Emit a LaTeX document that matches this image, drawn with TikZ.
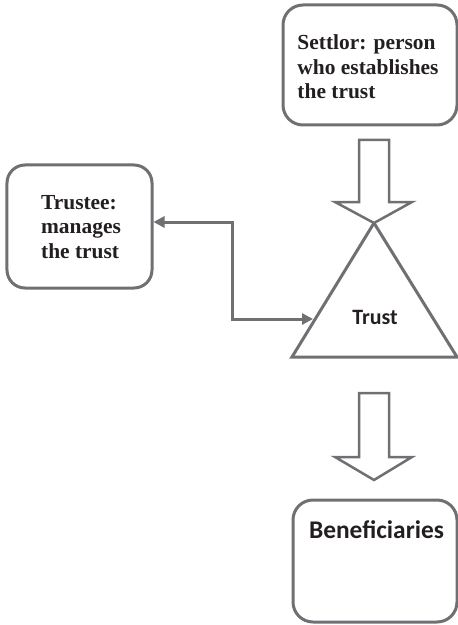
\documentclass[tikz,border=0pt]{standalone}
\usepackage{fontspec}
\setmainfont{Liberation Serif}
\newfontfamily\calfont{Carlito}
\usetikzlibrary{arrows.meta}
\definecolor{linegray}{HTML}{6F7073}
\definecolor{textdark}{HTML}{231F20}
\begin{document}
\begin{tikzpicture}[x=1bp,y=-1bp,
  box/.style={draw=linegray,line width=3bp,rounded corners=20bp,inner sep=0pt},
  serifbold/.style={text=textdark,font=\bfseries\fontsize{21.5}{24.5}\selectfont,align=left,inner sep=0pt},
  sansbold/.style={text=textdark,font=\calfont\bfseries\fontsize{22}{26}\selectfont,inner sep=0pt},
  blockarrow/.style={draw=linegray,line width=2.5bp,line join=miter,fill=white},
  conn/.style={draw=linegray,line width=3bp,{Triangle[length=11bp,width=11bp]}-{Triangle[length=11bp,width=11bp]}}
]
\useasboundingbox (0,0) rectangle (458,625);
% boxes
\node[box,minimum width=174bp,minimum height=120bp] (settlor) at (370,65) {};
\node[serifbold] (settlortext) at (368,67) {Settlor: person\\who establishes\\the trust};
\node[box,minimum width=145bp,minimum height=123bp,rounded corners=18bp] (trustee) at (79.5,226.5) {};
\node[serifbold] (trusteetext) at (81,227) {Trustee:\\manages\\the trust};
\node[box,minimum width=164bp,minimum height=122bp] (benef) at (375,561) {};
\node[sansbold,font=\calfont\bfseries\fontsize{25.5}{30}\selectfont] (beneftext) at (376.5,530) {Beneficiaries};
% triangle
\coordinate (apex) at (374,223);
\coordinate (bl) at (292,357);
\coordinate (br) at (457,357);
\draw[draw=linegray,line width=3bp,line join=miter] (apex) -- (br) -- (bl) -- cycle;
\node[sansbold] (trusttext) at (375,317) {Trust};
% block arrows
\draw[blockarrow] (359,140) -- (389,140) -- (389,202) -- (412,202) -- (apex) -- (335,202) -- (359,202) -- cycle;
\coordinate (tip2) at (374,480);
\draw[blockarrow] (359,393) -- (389,393) -- (389,457) -- (412,457) -- (tip2) -- (335,457) -- (359,457) -- cycle;
% elbow connector
\coordinate (trin) at (313,319);
\draw[conn] ([yshift=4.5bp]trustee.east) -- ++(79,0) |- (trin);
\end{tikzpicture}
\end{document}
